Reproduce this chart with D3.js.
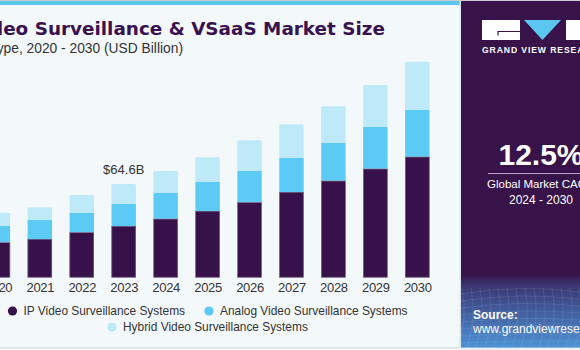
<!DOCTYPE html>
<html>
<head>
<meta charset="utf-8">
<script src="https://cdn.jsdelivr.net/npm/d3@7"></script>
<style>
  html, body { margin: 0; padding: 0; background: #f3f8fb; }
  svg { display: block; font-family: "Liberation Sans", Arial, sans-serif; }
</style>
</head>
<body>
<div id="chart"></div>
<script>
// data (USD Billion)
const years = ["2020", "2021", "2022", "2023", "2024", "2025", "2026", "2027", "2028", "2029", "2030"];
const ipVideo = [24.3, 26.6, 31.2, 35.6, 40.6, 46.0, 52.0, 59.1, 66.9, 75.2, 83.5];
const analogVideo = [11.3, 13.1, 13.5, 15.4, 18.0, 20.0, 21.8, 23.7, 26.1, 28.8, 32.3];
const hybridVideo = [9.2, 8.8, 12.4, 13.6, 15.0, 17.1, 21.0, 23.1, 25.4, 29.0, 33.4];
const seriesNames = ["IP Video Surveillance Systems", "Analog Video Surveillance Systems", "Hybrid Video Surveillance Systems"];
const seriesColors = ["#371149", "#5bcbf5", "#bde9f9"];
const calloutYear = "2023";
const calloutText = "$64.6B";

const W = 580, H = 350;
const svg = d3.select("#chart").append("svg").attr("width", W).attr("height", H);

// background and frame
svg.append("rect").attr("width", W).attr("height", H).attr("fill", "#f3f8fb");
svg.append("rect").attr("x", 0).attr("y", 0).attr("width", W).attr("height", 1).attr("fill", "#c9cfd4");
svg.append("rect").attr("x", 0).attr("y", 1).attr("width", 461).attr("height", 4).attr("fill", "#5bc6f0");
svg.append("rect").attr("x", 0).attr("y", 347.5).attr("width", W).attr("height", 1).attr("fill", "#c5cacf");
svg.append("rect").attr("x", 0).attr("y", 348.5).attr("width", W).attr("height", 2).attr("fill", "#f7f9fa");

// titles
svg.append("text")
  .attr("x", 385).attr("y", 35)
  .attr("text-anchor", "end")
  .style("font-family", "'DejaVu Sans', sans-serif")
  .style("font-weight", "bold")
  .style("font-size", "18.4px")
  .style("fill", "#3a1150")
  .text("Video Surveillance & VSaaS Market Size");

svg.append("text")
  .attr("x", 183).attr("y", 53)
  .attr("text-anchor", "end")
  .style("font-size", "13.8px")
  .style("fill", "#333")
  .text("by Type, 2020 - 2030 (USD Billion)");

// scales
const x = d3.scalePoint().domain(years).range([-2.1, 417.3]);
const barW = 24.4;
const y = d3.scaleLinear().domain([0, 150]).range([277.5, 60.5]);

const table = years.map((yr, i) => ({ year: yr, s0: ipVideo[i], s1: analogVideo[i], s2: hybridVideo[i] }));
const stack = d3.stack().keys(["s0", "s1", "s2"])(table);

const bars = svg.append("g");
bars.selectAll("g")
  .data(stack)
  .enter().append("g")
  .attr("fill", (d, i) => seriesColors[i])
  .selectAll("path")
  .data(d => d)
  .enter().append("path")
  .attr("d", function(d) {
    const x0 = x(d.data.year) - barW / 2;
    const top = y(d[1]), bot = y(d[0]);
    const isTop = this.parentNode.__data__.key === "s2";
    const r = isTop ? 1.5 : 0;
    return "M" + x0 + "," + bot +
      "V" + (top + r) +
      (r ? "Q" + x0 + "," + top + " " + (x0 + r) + "," + top : "") +
      "H" + (x0 + barW - r) +
      (r ? "Q" + (x0 + barW) + "," + top + " " + (x0 + barW) + "," + (top + r) : "") +
      "V" + bot + "Z";
  });

// faint outline on the dark segments
bars.append("g").selectAll("rect")
  .data(stack[0])
  .enter().append("rect")
  .attr("x", d => x(d.data.year) - barW / 2 + 0.3)
  .attr("y", d => y(d[1]) + 0.3)
  .attr("width", barW - 0.6)
  .attr("height", d => y(d[0]) - y(d[1]) - 0.6)
  .attr("fill", "none")
  .attr("stroke", "#8a7a98")
  .attr("stroke-width", 0.6);

// year axis
const xAxis = d3.axisBottom(x).tickSize(0).tickPadding(0);
const axisG = svg.append("g")
  .attr("transform", "translate(0,281)")
  .call(xAxis);
axisG.select(".domain").remove();
axisG.selectAll("text")
  .attr("dy", "0.85em")
  .style("font-family", "'Liberation Sans', Arial, sans-serif")
  .style("font-size", "13px")
  .style("letter-spacing", "-0.3px")
  .style("fill", "#333");

// callout
const ci = years.indexOf(calloutYear);
svg.append("text")
  .attr("x", x(calloutYear))
  .attr("y", y(ipVideo[ci] + analogVideo[ci] + hybridVideo[ci]) - 10)
  .attr("text-anchor", "middle")
  .style("font-size", "13px")
  .style("fill", "#333")
  .text(calloutText);

// legend
const legendPos = [{ cx: 12.5, cy: 311 }, { cx: 209, cy: 311 }, { cx: 112, cy: 327 }];
const legend = svg.append("g").selectAll("g")
  .data(seriesNames)
  .enter().append("g")
  .attr("transform", (d, i) => "translate(" + legendPos[i].cx + "," + legendPos[i].cy + ")");
legend.append("circle").attr("r", 4.6).attr("fill", (d, i) => seriesColors[i]);
legend.append("text")
  .attr("x", 11).attr("y", 4.4)
  .style("font-size", "11.9px")
  .style("fill", "#333")
  .text(d => d);

// right panel
const defs = svg.append("defs");
const grad = defs.append("linearGradient").attr("id", "panelGrad")
  .attr("x1", 0).attr("y1", 0).attr("x2", 0).attr("y2", 1);
grad.append("stop").attr("offset", "0%").attr("stop-color", "#371349");
grad.append("stop").attr("offset", "79%").attr("stop-color", "#371349");
grad.append("stop").attr("offset", "82%").attr("stop-color", "#3b3572");
grad.append("stop").attr("offset", "100%").attr("stop-color", "#4d93d6");

svg.append("rect").attr("x", 459.5).attr("y", 1).attr("width", 1.5).attr("height", 346.5).attr("fill", "#dfe8ee");
svg.append("rect").attr("x", 461).attr("y", 1).attr("width", 119).attr("height", 346.5).attr("fill", "url(#panelGrad)");

// faint mesh at the bottom of the panel
const mesh = svg.append("g").attr("stroke", "#9fc4ec").attr("stroke-opacity", 0.25).attr("fill", "none").attr("stroke-width", 0.6);
d3.range(0, 9).forEach(k => {
  const yy = 290 + k * 7;
  mesh.append("path").attr("d", "M461," + (yy + 4) + "Q520," + (yy - 6 + k) + " 580," + (yy + 2));
});
d3.range(0, 14).forEach(k => {
  const xx = 462 + k * 9;
  mesh.append("path").attr("d", "M" + xx + ",288Q" + (xx + 6) + ",318 " + (xx - 4) + ",347");
});

// logo
const logo = svg.append("g");
logo.append("rect").attr("x", 482).attr("y", 20).attr("width", 38).attr("height", 20).attr("fill", "#fff");
logo.append("path").attr("d", "M498,35.5V31.5H520").attr("stroke", "#371349").attr("stroke-width", 1.2).attr("fill", "none");
logo.append("path").attr("d", "M524,20H561L542.5,40Z").attr("fill", "#5bc6f0");
logo.append("rect").attr("x", 566).attr("y", 20).attr("width", 30).attr("height", 20).attr("fill", "#fff");
svg.append("text")
  .attr("x", 482).attr("y", 53)
  .style("font-size", "8.6px")
  .style("font-weight", "bold")
  .style("letter-spacing", "0.9px")
  .style("fill", "#fff")
  .text("GRAND VIEW RESEARCH");

// CAGR block
svg.append("text")
  .attr("x", 541).attr("y", 165)
  .attr("text-anchor", "middle")
  .style("font-size", "30px")
  .style("font-weight", "bold")
  .style("fill", "#fff")
  .text("12.5%");
svg.append("line").attr("x1", 488).attr("x2", 594).attr("y1", 173.5).attr("y2", 173.5)
  .attr("stroke", "#b8a6c8").attr("stroke-width", 1);
svg.append("text")
  .attr("x", 541).attr("y", 188)
  .attr("text-anchor", "middle")
  .style("font-size", "11.5px")
  .style("fill", "#fff")
  .text("Global Market CAGR");
svg.append("text")
  .attr("x", 541).attr("y", 204)
  .attr("text-anchor", "middle")
  .style("font-size", "12px")
  .style("fill", "#fff")
  .text("2024 - 2030");

// source
svg.append("text")
  .attr("x", 473).attr("y", 319)
  .style("font-size", "12px")
  .style("font-weight", "bold")
  .style("fill", "#fff")
  .text("Source:");
svg.append("text")
  .attr("x", 473).attr("y", 333)
  .style("font-size", "12px")
  .style("fill", "#fff")
  .text("www.grandviewresearch.com");
</script>
</body>
</html>
